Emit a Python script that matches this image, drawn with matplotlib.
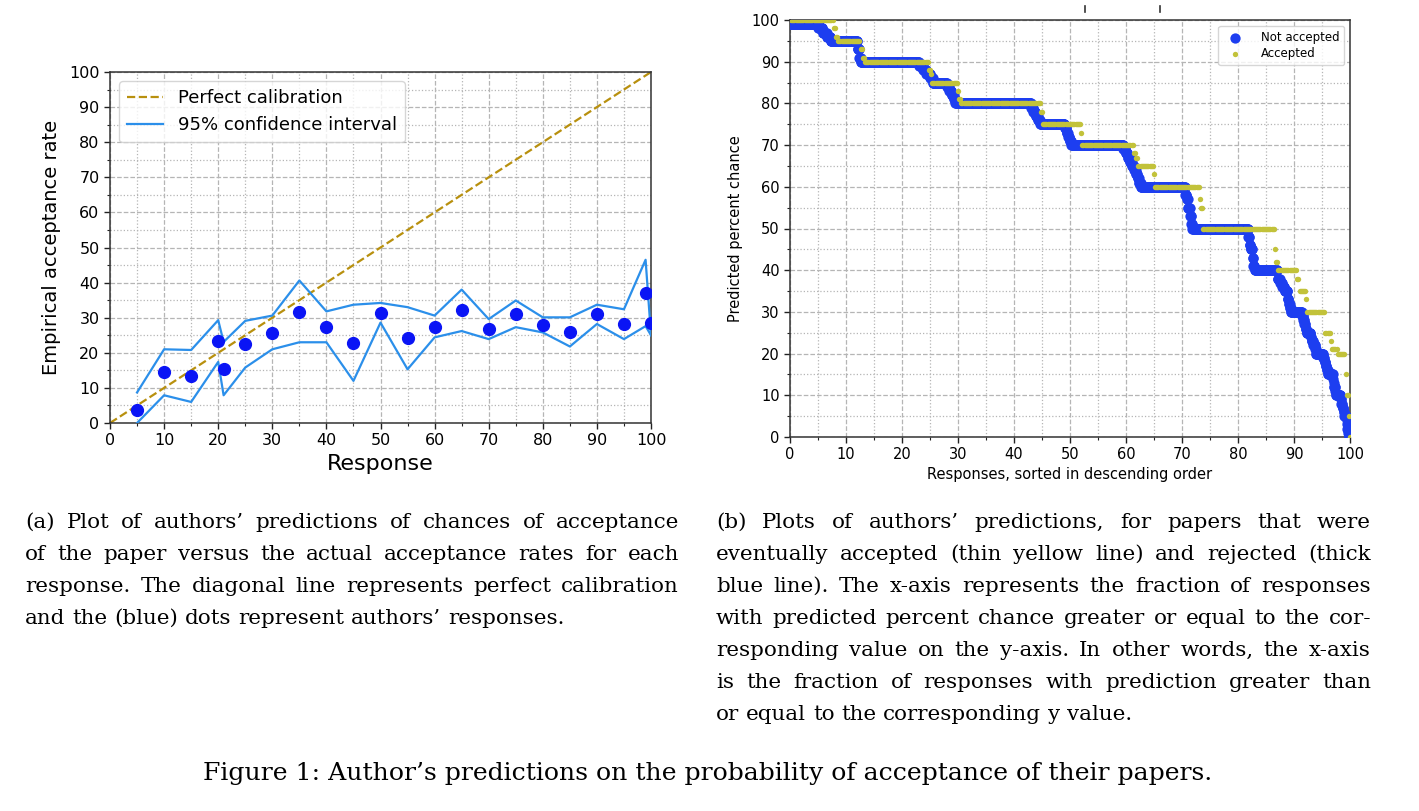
import numpy as np
import matplotlib
matplotlib.use("Agg")
import matplotlib.pyplot as plt
from matplotlib.ticker import MultipleLocator
from matplotlib.lines import Line2D

# ---------------- Panel (a) data ----------------
response = [5, 10, 15, 20, 21, 25, 30, 35, 40, 45, 50, 55, 60, 65, 70, 75, 80, 85, 90, 95, 99, 100]
empirical_rate = [3.8, 14.4, 13.4, 23.3, 15.5, 22.5, 25.7, 31.7, 27.3, 22.9, 31.3, 24.2,
                  27.4, 32.1, 26.8, 31.0, 27.8, 26.0, 31.0, 28.2, 37.0, 28.4]
ci_upper = [8.7, 21.0, 20.8, 29.3, 23.1, 29.1, 30.6, 40.6, 31.8, 33.7, 34.2, 33.0,
            30.6, 38.0, 29.6, 34.9, 30.1, 30.1, 33.7, 32.4, 46.5, 25.0]
ci_lower = [0.0, 7.9, 6.0, 17.4, 7.9, 15.8, 21.0, 23.0, 23.0, 12.0, 28.6, 15.3,
            24.4, 26.2, 23.9, 27.3, 25.8, 21.8, 28.2, 23.9, 27.6, 25.0]
calib_x = [0, 100]
calib_y = [0, 100]

# ---------------- Panel (b) data ----------------
# predicted percent chance (descending) and cumulative share of responses (%) reached at that value
rej_levels = [99, 98, 97, 96, 95, 93, 91, 90, 89, 88, 87, 86, 85, 84, 83, 82, 81, 80, 79, 78, 77, 76,
              75, 74, 73, 72, 71, 70, 69, 68, 67, 66, 65, 64, 63, 62, 61, 60, 58, 57, 55, 53, 51,
              50, 48, 46, 45, 43, 41, 40, 38, 37, 36, 35, 33, 32, 31, 30, 29, 28, 27, 26, 25,
              24, 23, 22, 21, 20, 19, 18, 17, 16, 15, 14, 13, 12, 11, 10, 9, 8, 7, 6, 5, 4, 3, 2, 1, 0]
rej_cum = [5.0, 5.8, 6.5, 7.2, 12.0, 12.3, 12.6, 23.0, 23.7, 24.3, 25.0, 25.5, 28.0, 28.4, 28.8, 29.2,
           29.5, 43.0, 43.4, 43.8, 44.2, 44.6, 49.0, 49.3, 49.6, 49.9, 50.2, 59.5, 59.9, 60.3, 60.7,
           61.0, 61.4, 61.7, 62.0, 62.3, 62.6, 70.5, 70.8, 71.0, 71.4, 71.6, 71.8, 81.8, 82.0, 82.2,
           82.5, 82.7, 82.9, 87.0, 87.5, 87.9, 88.3, 88.8, 89.0, 89.2, 89.4, 91.4, 91.6, 91.8, 92.0,
           92.2, 92.9, 93.1, 93.4, 93.7, 93.9, 95.2, 95.4, 95.6, 95.8, 96.0, 96.9, 97.0, 97.1, 97.3,
           97.4, 98.3, 98.4, 98.6, 98.8, 98.9, 99.3, 99.4, 99.5, 99.6, 99.7, 100.0]
acc_levels = [100, 98, 96, 95, 93, 91, 90, 88, 87, 85, 83, 81, 80, 78, 75, 73, 70, 68, 67, 65, 63,
              60, 57, 56, 55, 54, 50, 45, 42, 40, 38, 37, 35, 33, 30, 25, 23, 21, 20, 15, 12, 10,
              8, 5, 0]
acc_cum = [7.6, 8.0, 8.3, 12.5, 12.8, 13.1, 24.6, 25.0, 25.3, 29.8, 30.1, 30.4, 44.6, 45.0, 51.8,
           52.1, 61.3, 61.6, 61.9, 64.8, 65.1, 72.9, 73.1, 73.3, 73.5, 73.7, 86.3, 86.6, 86.9, 90.5,
           90.7, 90.9, 91.9, 92.2, 95.4, 96.3, 96.6, 97.5, 98.9, 99.1, 99.3, 99.5, 99.6, 99.8, 100.0]
n_rejected = 1500
n_accepted = 500

caption_a = ["(a) Plot of authors\u2019 predictions of chances of acceptance",
             "of the paper versus the actual acceptance rates for each",
             "response. The diagonal line represents perfect calibration",
             "and the (blue) dots represent authors\u2019 responses."]
caption_b = ["(b) Plots of authors\u2019 predictions, for papers that were",
             "eventually accepted (thin yellow line) and rejected (thick",
             "blue line). The x-axis represents the fraction of responses",
             "with predicted percent chance greater or equal to the cor-",
             "responding value on the y-axis. In other words, the x-axis",
             "is the fraction of responses with prediction greater than",
             "or equal to the corresponding y value."]
caption_fig = "Figure 1: Author\u2019s predictions on the probability of acceptance of their papers."


def expand(levels, cum, n):
    ends = np.round(np.asarray(cum) / 100.0 * n).astype(int)
    counts = np.diff(np.concatenate([[0], ends]))
    vals = np.repeat(np.asarray(levels, dtype=float), counts)
    x = np.arange(1, len(vals) + 1) / len(vals) * 100.0
    return x, vals


W, H = 1419, 811
fig = plt.figure(figsize=(W / 100, H / 100), dpi=100)


def px_axes(x0, y0, x1, y1):
    return fig.add_axes([x0 / W, 1 - y1 / H, (x1 - x0) / W, (y1 - y0) / H])


def style(ax, labelsize):
    ax.set_xlim(0, 100)
    ax.set_ylim(0, 100)
    ax.xaxis.set_major_locator(MultipleLocator(10))
    ax.yaxis.set_major_locator(MultipleLocator(10))
    ax.xaxis.set_minor_locator(MultipleLocator(5))
    ax.yaxis.set_minor_locator(MultipleLocator(5))
    ax.grid(which="major", ls="--", color="#b5b5b5", lw=0.9)
    ax.grid(which="minor", ls=":", color="#b5b5b5", lw=0.9)
    ax.set_axisbelow(True)
    ax.tick_params(which="major", direction="out", length=4, width=1.0, labelsize=labelsize, colors="#222222")
    ax.tick_params(which="minor", direction="out", length=2, width=0.8, colors="#222222")
    ax.tick_params(labelcolor="black")
    for sp in ax.spines.values():
        sp.set_color("#333333")
        sp.set_linewidth(1.1)


# ---------------- Panel (a) ----------------
axa = px_axes(110, 72, 651, 423)
style(axa, 11.5)
axa.plot(calib_x, calib_y, ls="--", color="#b8900e", lw=1.6, label="Perfect calibration", zorder=2)
axa.plot(response, ci_upper, color="#2b8fea", lw=1.6, label="95% confidence interval", zorder=3)
axa.plot(response, ci_lower, color="#2b8fea", lw=1.6, zorder=3)
axa.plot(response, empirical_rate, "o", color="#0a14f5", ms=8.5, zorder=4)
axa.set_xlabel("Response", fontsize=16, labelpad=4)
axa.set_ylabel("Empirical acceptance rate", fontsize=14, labelpad=6)
leg = axa.legend(loc="upper left", fontsize=13, handlelength=2.0, borderpad=0.45,
                 labelspacing=0.5, framealpha=0.8, edgecolor="#cccccc")

# ---------------- Panel (b) ----------------
axb = px_axes(790, 20, 1350, 437)
style(axb, 10.5)
xr, yr = expand(rej_levels, rej_cum, n_rejected)
xa, ya = expand(acc_levels, acc_cum, n_accepted)
axb.scatter(xr, yr, s=55, color="#1d3ef0", linewidths=0, label="Not accepted", zorder=3)
axb.scatter(xa, ya, s=15, color="#c2c23a", linewidths=0, label="Accepted", zorder=4)
axb.set_xlabel("Responses, sorted in descending order", fontsize=10.5, labelpad=3)
axb.set_ylabel("Predicted percent chance", fontsize=10.5, labelpad=6)
axb.legend(loc="upper right", fontsize=8.5, borderpad=0.4, labelspacing=0.3,
           framealpha=0.8, edgecolor="#cccccc", handletextpad=1.2)

# small marks above panel (b)
for xm in (1085, 1160):
    fig.add_artist(Line2D([xm / W, xm / W], [1 - 6 / H, 1 - 12 / H], color="#333333", lw=1.2))

# ---------------- Captions ----------------
fig.canvas.draw()
renderer = fig.canvas.get_renderer()
CAP_FONT = "DejaVu Serif"
PROBE = 18.0


def text_width(s, size):
    t = fig.text(0, 0, s, fontsize=size, family=CAP_FONT)
    w = t.get_window_extent(renderer).width
    t.remove()
    return w


# main caption spans about 1009 px in the reference
FIG_SIZE = PROBE * 1009.0 / text_width(caption_fig, PROBE)

# sub-caption size: the tightest justified line should fill about 97% of its column
A_W = 679 - 25
B_W = 1371 - 716
ratios = [A_W * 0.97 / text_width(l, PROBE) for l in caption_a[:-1]] + \
         [B_W * 0.97 / text_width(l, PROBE) for l in caption_b[:-1]]
SUB_SIZE = PROBE * min(ratios)


def put_line(text, x0, x1, base_y, justify):
    words = text.split(" ")
    objs = [fig.text(0, 1 - base_y / H, w, fontsize=SUB_SIZE, family=CAP_FONT,
                     va="baseline", ha="left") for w in words]
    widths = [o.get_window_extent(renderer).width for o in objs]
    space = 0.32 * SUB_SIZE * 100 / 72
    if justify and len(words) > 1:
        gap = ((x1 - x0) - sum(widths)) / (len(words) - 1)
    else:
        gap = space
    x = x0
    for o, w in zip(objs, widths):
        o.set_x(x / W)
        x += w + gap


base0 = 528
step = 32
for i, line in enumerate(caption_a):
    put_line(line, 25, 679, base0 + i * step, i < len(caption_a) - 1)
for i, line in enumerate(caption_b):
    put_line(line, 716, 1371, base0 + i * step, i < len(caption_b) - 1)

fig.text(708 / W, 1 - 780 / H, caption_fig, fontsize=FIG_SIZE, family=CAP_FONT,
         va="baseline", ha="center")

fig.savefig("out.png", dpi=100)
